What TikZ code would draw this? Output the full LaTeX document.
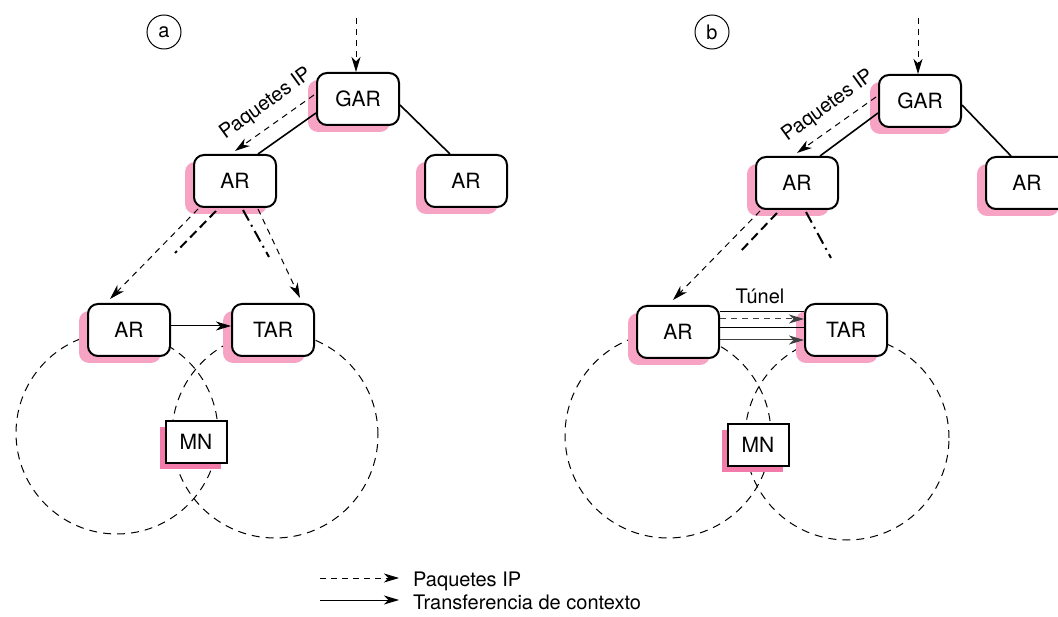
\documentclass[tikz,border=0pt]{standalone}
\usepackage{fontspec}
\setmainfont{TeX Gyre Heros}
\usetikzlibrary{arrows.meta,shadows,calc}

\definecolor{shadepink}{HTML}{F7A3C4}
\definecolor{mnpink}{HTML}{F27BAA}

\begin{document}
\begin{tikzpicture}[x=1pt,y=-1pt,
  every node/.style={font=\fontsize{20}{24}\selectfont},
  router/.style={draw, line width=2pt, rounded corners=10pt, fill=white,
    minimum width=82pt, minimum height=52pt, inner sep=0pt,
    font=\fontsize{21}{25}\selectfont,
    drop shadow={fill=shadepink, opacity=1, shadow xshift=-9pt, shadow yshift=-7pt}},
  host/.style={draw, line width=2pt, fill=white,
    minimum width=61pt, minimum height=42pt, inner sep=0pt,
    font=\fontsize{21}{25}\selectfont,
    drop shadow={fill=mnpink, opacity=1, shadow xshift=-6pt, shadow yshift=-6pt}},
  tag/.style={draw, circle, line width=1pt, minimum size=34pt, inner sep=0pt},
  cell/.style={draw, circle, line width=1pt, inner sep=0pt, dash pattern=on 8pt off 6pt},
  tip/.style={-{Stealth[length=15pt,width=9pt,inset=4.5pt]}},
  pkt/.style={line width=1pt, dash pattern=on 6pt off 5pt},
  link/.style={line width=1.6pt},
  ctx/.style={line width=1pt},
  path1/.style={line width=2pt, dash pattern=on 9pt off 5pt},
  path2/.style={line width=2pt, dash pattern=on 12pt off 5pt on 2pt off 5pt},
  txt/.style={inner sep=0pt}
]
\useasboundingbox (0,0) rectangle (1058,617);

% ---------- coverage areas (drawn first, behind the routers) ----------
\node[cell, minimum size=202pt] (cellA1) at (117,433) {};
\node[cell, minimum size=206pt] (cellA2) at (275,435) {};
\node[cell, minimum size=206pt] (cellB1) at (668,435) {};
\node[cell, minimum size=204pt] (cellB2) at (847,438) {};

% ================= case a =================
\node[tag] (la) at (164,32) {a};
\node[router] (gar) at (358,99) {GAR};
\node[router] (ar) at (235,181) {AR};
\node[router] (arx) at (466,181) {AR};
\node[router] (oar) at (129,330) {AR};
\node[router] (tar) at (273,330) {TAR};
\node[host] (mn) at (196,442) {MN};

\coordinate (srcA) at (356,18);
\draw[pkt,tip] (srcA) -- ($(gar.north)+(-2,0)$);
\draw[link] ($(gar.west)+(0,14)$) -- ($(ar.north)+(23,0)$);
\draw[link] ($(gar.east)+(0,6)$) -- ($(arx.north)+(-16,0)$);
\draw[pkt,tip] ($(gar.west)+(-2,-4)$) -- ($(ar.north)+(0,-3)$);
\node[txt, rotate=36] (lblA) at (266,104) {Paquetes IP};

\coordinate (endA1) at (175,253);
\coordinate (endA2) at (269,257);
\draw[pkt,tip] ($(ar.south)+(-37,1)$) -- ($(oar.north)+(-19,-4)$);
\draw[path1] ($(ar.south)+(-19,3)$) -- (endA1);
\draw[path2] ($(ar.south)+(8,2)$) -- (endA2);
\draw[pkt,tip] ($(ar.south)+(23,1)$) -- ($(tar.north)+(27,-5)$);
\draw[ctx,tip] ($(oar.east)+(0,-4)$) -- ($(tar.west)+(0,-4)$);

% ================= case b =================
\node[tag] (lb) at (712,32) {b};
\node[router] (garb) at (920,101) {GAR};
\node[router] (arb) at (797,183) {AR};
\node[router] (arxb) at (1027,183) {AR};
\node[router] (oarb) at (678,332) {AR};
\node[router] (tarb) at (846,330) {TAR};
\node[host] (mnb) at (758,445) {MN};

\coordinate (srcB) at (918,18);
\draw[pkt,tip] (srcB) -- ($(garb.north)+(-2,0)$);
\draw[link] ($(garb.west)+(0,12)$) -- ($(arb.north)+(23,0)$);
\draw[link] ($(garb.east)+(0,4)$) -- ($(arxb.north)+(-16,0)$);
\draw[pkt,tip] ($(garb.west)+(-2,-4)$) -- ($(arb.north)+(0,-3)$);
\node[txt, rotate=36] (lblB) at (828,106) {Paquetes IP};

\coordinate (endB1) at (739,253);
\coordinate (endB2) at (831,258);
\draw[pkt,tip] ($(arb.south)+(-37,1)$) -- ($(oarb.north)+(-5,-5)$);
\draw[path1] ($(arb.south)+(-20,3)$) -- (endB1);
\draw[path2] ($(arb.south)+(9,2)$) -- (endB2);

% tunnel between AR and TAR
\draw[ctx] ($(oarb.east)+(0,-20)$) -- ($(tarb.west)+(0,-18)$);
\draw[pkt,tip,black!75] ($(oarb.east)+(0,-13)$) -- ($(tarb.west)+(0,-11)$);
\draw[ctx] ($(oarb.east)+(0,-4)$) -- ($(tarb.west)+(0,-2)$);
\draw[ctx,tip,black!75] ($(oarb.east)+(0,8)$) -- ($(tarb.west)+(0,10)$);
\node[txt] (tunel) at (760,296) {Túnel};

% ================= legend =================
\coordinate (k1a) at (320,578);
\coordinate (k1b) at (399,578);
\coordinate (k2a) at (320,600);
\coordinate (k2b) at (399,600);
\draw[pkt,tip] (k1a) -- (k1b);
\draw[ctx,tip] (k2a) -- (k2b);
\node[txt, anchor=base west] (key1) at (413,586) {Paquetes IP};
\node[txt, anchor=base west] (key2) at (413,609) {Transferencia de contexto};
\end{tikzpicture}
\end{document}
